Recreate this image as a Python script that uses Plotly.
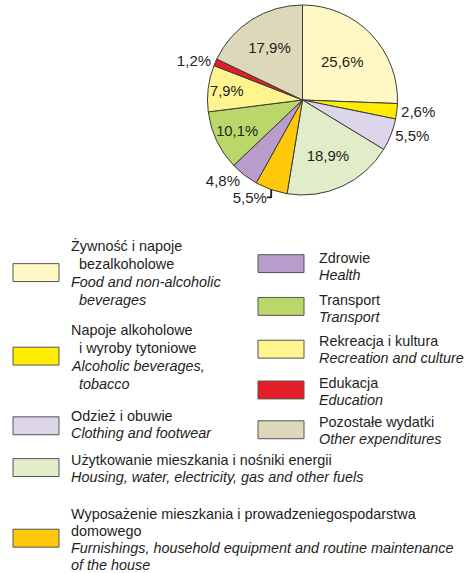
import plotly.graph_objects as go

# ---------------- data ----------------
categories_pl = [
    "Żywność i napoje bezalkoholowe",
    "Napoje alkoholowe i wyroby tytoniowe",
    "Odzież i obuwie",
    "Użytkowanie mieszkania i nośniki energii",
    "Wyposażenie mieszkania i prowadzenie gospodarstwa domowego",
    "Zdrowie",
    "Transport",
    "Rekreacja i kultura",
    "Edukacja",
    "Pozostałe wydatki",
]
categories_en = [
    "Food and non-alcoholic beverages",
    "Alcoholic beverages, tobacco",
    "Clothing and footwear",
    "Housing, water, electricity, gas and other fuels",
    "Furnishings, household equipment and routine maintenance of the house",
    "Health",
    "Transport",
    "Recreation and culture",
    "Education",
    "Other expenditures",
]
shares = [25.6, 2.6, 5.5, 18.9, 5.5, 4.8, 10.1, 7.9, 1.2, 17.9]

# legend text as printed (line breaks as in the original)
legend_pl_lines = [
    ["Żywność i napoje", "\u00a0\u00a0bezalkoholowe"],
    ["Napoje alkoholowe", "\u00a0\u00a0i wyroby tytoniowe"],
    ["Odzież i obuwie"],
    ["Użytkowanie mieszkania i nośniki energii"],
    ["Wyposażenie mieszkania i prowadzeniegospodarstwa", "domowego"],
    ["Zdrowie"],
    ["Transport"],
    ["Rekreacja i kultura"],
    ["Edukacja"],
    ["Pozostałe wydatki"],
]
legend_en_lines = [
    ["Food and non-alcoholic", "\u00a0\u00a0beverages"],
    ["Alcoholic beverages,", "\u00a0\u00a0tobacco"],
    ["Clothing and footwear"],
    ["Housing, water, electricity, gas and other fuels"],
    ["Furnishings, household equipment and routine maintenance", "of the house"],
    ["Health"],
    ["Transport"],
    ["Recreation and culture"],
    ["Education"],
    ["Other expenditures"],
]

# ---------------- style ----------------
colors = ["#FFF8C4", "#FFEC00", "#DDD6EA", "#E1EDC8", "#FFC80A",
          "#B89CCB", "#BBD76A", "#FFF48E", "#E31E26", "#DED8BA"]
text_positions = ["inside", "outside", "outside", "inside", "outside",
                  "outside", "inside", "inside", "outside", "inside"]
FONT = "Liberation Sans Narrow, Arial Narrow, Liberation Sans, Arial, sans-serif"
TXT = "#231F20"
W, H = 465, 573

# legend geometry (pixels): (box_x, box_top, text_x, first_line_y, line_step)
legend_geom = [
    (13, 262, 69, 244, 18.3),
    (13, 346, 69, 329, 18.0),
    (13, 416, 69, 415, 17.5),
    (13, 458, 69, 459, 17.0),
    (13, 529, 69, 514, 17.0),
    (258, 253, 317, 256, 17.0),
    (258, 296, 317, 299, 17.0),
    (258, 339, 317, 340, 17.0),
    (258, 380, 317, 382, 17.0),
    (258, 420, 317, 421, 17.0),
]
BOX_W, BOX_H = 46, 18

def px(x):
    return x / W

def py(y):
    return 1 - y / H

fig = go.Figure()
fig.add_trace(go.Pie(
    labels=categories_en,
    values=shares,
    sort=False,
    direction="clockwise",
    rotation=0,
    marker=dict(colors=colors, line=dict(color="#3C3C3C", width=1)),
    texttemplate="%{value:.1f}%",
    textposition=text_positions,
    insidetextorientation="horizontal",
    textfont=dict(family=FONT, size=15, color=TXT),
    outsidetextfont=dict(family=FONT, size=15, color=TXT),
    insidetextfont=dict(family=FONT, size=15, color=TXT),
    showlegend=False,
    hoverinfo="label+value",
    domain=dict(x=[px(207), px(398)], y=[py(193), py(2)]),
))

shapes = []
annotations = []
for i in range(len(shares)):
    bx, by, tx, ly, step = legend_geom[i]
    shapes.append(dict(
        type="rect", xref="paper", yref="paper",
        x0=px(bx), x1=px(bx + BOX_W), y0=py(by + BOX_H), y1=py(by),
        fillcolor=colors[i], line=dict(color="#555555", width=1),
    ))
    lines = [(t, False) for t in legend_pl_lines[i]] + [(t, True) for t in legend_en_lines[i]]
    for k, (t, ital) in enumerate(lines):
        annotations.append(dict(
            xref="paper", yref="paper", x=px(tx), y=py(ly + k * step),
            xanchor="left", yanchor="middle", showarrow=False,
            text=f"<i>{t}</i>" if ital else t,
            font=dict(family=FONT, size=14.4, color=TXT),
        ))

fig.update_layout(
    width=W, height=H,
    margin=dict(l=0, r=0, t=0, b=0),
    paper_bgcolor="white", plot_bgcolor="white",
    separators=", ",
    shapes=shapes,
    annotations=annotations,
)

fig.write_html("out.html", config={"displayModeBar": False},
               post_script="document.body.style.margin='0';")
